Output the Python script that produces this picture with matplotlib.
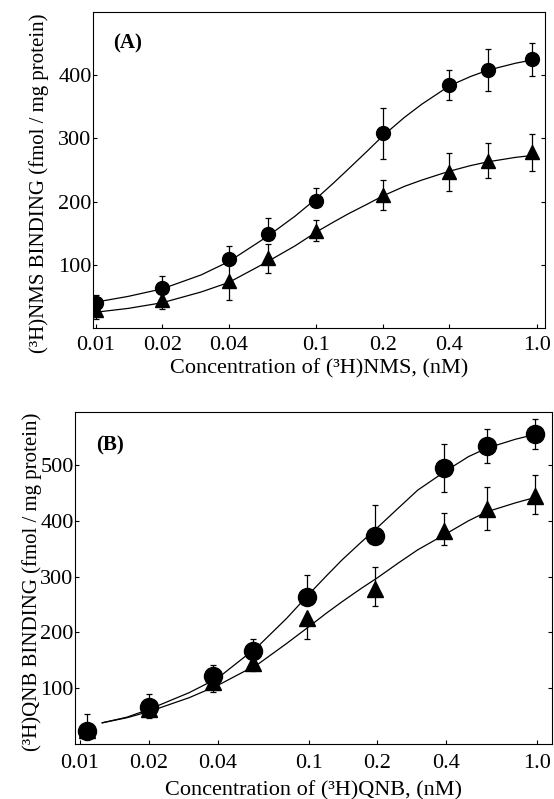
import numpy as np
import matplotlib; matplotlib.use("Agg"); import matplotlib.pyplot as plt

plt.rcParams['font.family'] = ['Liberation Serif', 'DejaVu Serif']

# ---- panel A: (3H)NMS ----
conc_a = [0.01, 0.02, 0.04, 0.06, 0.1, 0.2, 0.4, 0.6, 0.95]
circ_a = [40, 64, 109, 148, 201, 308, 384, 408, 425]
circ_a_lo = [0, 0, 0, 0, 0, 40, 24, 33, 26]
circ_a_hi = [13, 18, 20, 26, 20, 40, 24, 33, 26]
tri_a = [29, 45, 75, 110, 154, 210, 247, 265, 278]
tri_a_lo = [15, 15, 30, 23, 17, 24, 30, 28, 29]
tri_a_hi = [0, 0, 30, 23, 17, 24, 30, 28, 29]
curve_xa = [0.01, 0.014, 0.02, 0.03, 0.04, 0.06, 0.08, 0.1, 0.12, 0.14, 0.17, 0.2, 0.25, 0.3, 0.4, 0.5, 0.6, 0.8, 0.95]
curve_circ_a = [41, 50, 62, 84, 105, 145, 177, 205, 230, 252, 280, 304, 333, 354, 383, 398, 408, 419, 424]
curve_tri_a = [25, 31, 40, 57, 72, 105, 130, 152, 168, 181, 196, 209, 224, 234, 248, 257, 263, 270, 273]

# ---- panel B: (3H)QNB ----
conc_b = [0.0107, 0.02, 0.038, 0.057, 0.098, 0.195, 0.39, 0.6, 0.98]
circ_b = [23, 67, 121, 166, 263, 373, 495, 534, 556]
circ_b_lo = [0, 0, 0, 0, 0, 0, 43, 30, 27]
circ_b_hi = [31, 23, 20, 22, 40, 55, 43, 30, 27]
tri_b = [25, 63, 111, 145, 226, 278, 381, 421, 445]
tri_b_lo = [0, 17, 18, 15, 37, 30, 25, 38, 33]
tri_b_hi = [0, 0, 0, 0, 0, 40, 33, 39, 37]
curve_xb = [0.0125, 0.016, 0.02, 0.03, 0.04, 0.06, 0.08, 0.1, 0.12, 0.14, 0.17, 0.2, 0.25, 0.3, 0.4, 0.5, 0.6, 0.8, 0.98]
curve_circ_b = [38, 48, 62, 92, 118, 175, 225, 268, 302, 330, 362, 388, 425, 455, 490, 515, 530, 546, 555]
curve_tri_b = [38, 47, 58, 83, 105, 143, 180, 210, 235, 255, 279, 298, 326, 348, 377, 400, 416, 432, 442]

xticks = [0.01, 0.02, 0.04, 0.1, 0.2, 0.4, 1.0]
xticklabels = ["0.01", "0.02", "0.04", "0.1", "0.2", "0.4", "1.0"]

W, H = 554, 799
fig = plt.figure(figsize=(W / 100, H / 100), dpi=100)

def px_axes(l, t, r, b):
    return fig.add_axes([l / W, 1 - b / H, (r - l) / W, (b - t) / H])

def panel(ax, conc, circ, clo, chi, tri, tlo, thi, cx, cc, ct, msc, mst, xlim, ylim, yticks,
          letter, ylab, xlab, ylab_xy, xpad, xlabpad):
    ax.plot(cx, cc, "-", color="black", lw=0.9)
    ax.plot(cx, ct, "-", color="black", lw=0.9)
    ax.errorbar(conc, circ, yerr=[clo, chi], fmt="o", color="black", ms=msc,
                ecolor="black", elinewidth=0.9, capsize=2, capthick=0.9)
    ax.errorbar(conc, tri, yerr=[tlo, thi], fmt="^", color="black", ms=mst,
                ecolor="black", elinewidth=0.9, capsize=2, capthick=0.9)
    ax.set_xscale("log")
    ax.set_xlim(*xlim); ax.set_ylim(*ylim)
    ax.set_xticks(xticks); ax.set_xticklabels(xticklabels)
    ax.minorticks_off()
    ax.set_yticks(yticks)
    ax.tick_params(direction="in", length=3, width=0.8, labelsize=16,
                   top=False, right=True)
    ax.tick_params(axis="x", pad=xpad)
    ax.tick_params(axis="y", pad=1)
    for s in ax.spines.values():
        s.set_linewidth(0.8)
    ax.text(0.045, 0.9, letter, transform=ax.transAxes, fontsize=15, fontweight="bold", va="center")
    ax.set_ylabel(ylab, fontsize=15)
    ax.yaxis.set_label_coords(*ylab_xy)
    ax.set_xlabel(xlab, fontsize=16, labelpad=xlabpad)

ax_a = px_axes(93, 12, 545, 328)
panel(ax_a, conc_a, circ_a, circ_a_lo, circ_a_hi, tri_a, tri_a_lo, tri_a_hi,
      curve_xa, curve_circ_a, curve_tri_a, 10, 10, (0.0097, 1.087), (0, 500),
      [100, 200, 300, 400], "(A)", "(³H)NMS BINDING (fmol / mg protein)",
      "Concentration of (³H)NMS, (nM)", (-0.097, 0.459), 6, 3)

ax_b = px_axes(75, 412, 552, 744)
panel(ax_b, conc_b, circ_b, circ_b_lo, circ_b_hi, tri_b, tri_b_lo, tri_b_hi,
      curve_xb, curve_circ_b, curve_tri_b, 13, 11, (0.0095, 1.16), (0, 595),
      [100, 200, 300, 400, 500], "(B)", "(³H)QNB BINDING (fmol / mg protein)",
      "Concentration of (³H)QNB, (nM)", (-0.069, 0.488), 7, 6)

fig.savefig("out.png", dpi=100)
